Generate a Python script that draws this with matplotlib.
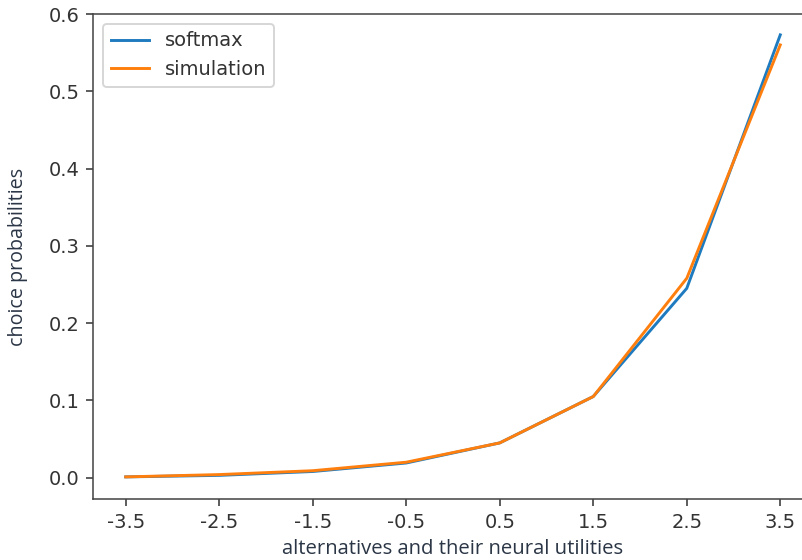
import matplotlib
matplotlib.use("Agg")
import matplotlib.pyplot as plt

x_labels = ["-3.5", "-2.5", "-1.5", "-0.5", "0.5", "1.5", "2.5", "3.5"]
x_vals = [-3.5, -2.5, -1.5, -0.5, 0.5, 1.5, 2.5, 3.5]
softmax = [0.001, 0.003, 0.008, 0.019, 0.045, 0.105, 0.245, 0.573]
simulation = [0.001, 0.004, 0.009, 0.020, 0.045, 0.105, 0.258, 0.560]

fig = plt.figure(figsize=(802/140, 560/140), dpi=140)
ax = fig.add_axes([93/802, 61/560, (813-93)/802, (499-14)/560])
ax.plot(x_vals, softmax, color="#1f7bbf", label="softmax")
ax.plot(x_vals, simulation, color="#ff7f0e", label="simulation")
ax.set_xticks(x_vals)
ax.set_xticklabels(x_labels)
ax.set_yticks([0.0, 0.1, 0.2, 0.3, 0.4, 0.5, 0.6])
ax.set_ylim(-0.0276, 0.6)
ax.set_xlim(-3.85, 3.85)
for s in ax.spines.values():
    s.set_color("#444444")
ax.tick_params(colors="#333333", labelcolor="#333333")
ax.set_xlabel("alternatives and their neural utilities", family="Open Sans", color="#2a3545", fontsize=10.4)
ax.set_ylabel("choice probabilities", family="Open Sans", color="#2a3545", fontsize=10.2, labelpad=10.5)
leg = ax.legend(loc="upper left")
for t in leg.get_texts():
    t.set_color("#333333")
fig.savefig("out.png", dpi=140)
